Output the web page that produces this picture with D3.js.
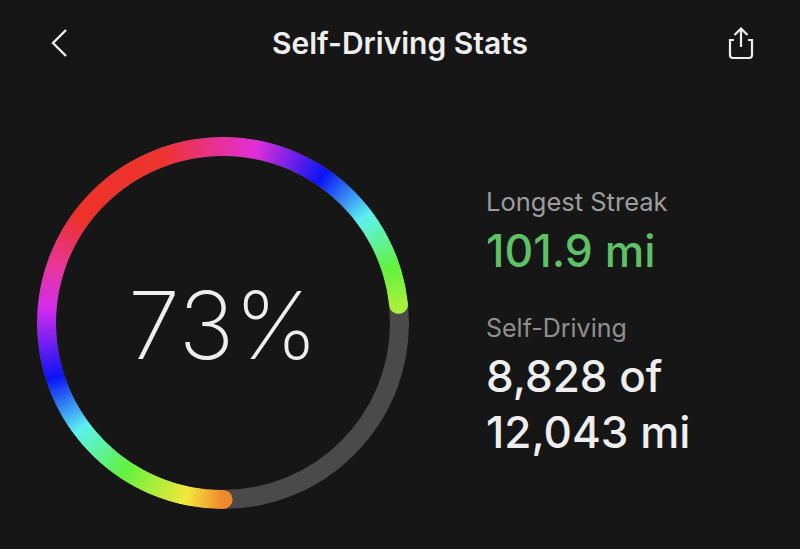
<!DOCTYPE html>
<html lang="en">
<head>
<meta charset="UTF-8">
<script src="https://d3js.org/d3.v7.min.js"></script>
<style>
    html, body { margin: 0; padding: 0; background: #161616; }
    svg { display: block; }
    text { font-family: Inter, "Noto Sans", sans-serif; }
</style>
</head>
<body>
<svg width="800" height="549"></svg>
<script>
// values
const selfDrivingMiles = 8828;
const totalMiles = 12043;
const percentLabel = "73%";
const titleLabel = "Self-Driving Stats";
const streakLabel = "Longest Streak";
const streakValue = "101.9 mi";
const selfLabel = "Self-Driving";
const selfValueLines = ["8,828 of", "12,043 mi"];

// colour band around the ring: share of the full circle, measured from the bottom, clockwise
const bandStops = [0, 0.032, 0.092, 0.147, 0.199, 0.262, 0.30, 0.35, 0.444, 0.528, 0.594, 0.647, 0.699, 0.733];
const bandColors = ["#ef8a2c", "#f3e83c", "#62f23e", "#5df2f0", "#0a14f5", "#d42bec", "#e6369c", "#ee3229",
                    "#ee3430", "#e22fd8", "#0a14f5", "#5df2f0", "#62f23e", "#a8f03c"];

const svg = d3.select("svg");
const cx = 223, cy = 323, outer = 186, inner = 167;
const ring = svg.append("g").attr("transform", `translate(${cx},${cy})`);

const angle = d3.scaleLinear().domain([0, 1]).range([Math.PI, 3 * Math.PI]);
const color = d3.scaleLinear().domain(bandStops).range(bandColors).interpolate(d3.interpolateRgb).clamp(true);

const arc = d3.arc().innerRadius(inner).outerRadius(outer);

// grey track
ring.append("path")
    .attr("d", arc({ startAngle: 0, endAngle: 2 * Math.PI }))
    .attr("fill", "#4a4a4a");

// rounded caps poke out past the ends of the value
const share = selfDrivingMiles / totalMiles;
const capPad = (outer - inner) / 2 / ((outer + inner) / 2) / (2 * Math.PI);

svg.append("clipPath").attr("id", "band")
    .append("path")
    .attr("transform", `translate(${cx},${cy})`)
    .attr("d", d3.arc().innerRadius(inner).outerRadius(outer).cornerRadius((outer - inner) / 2)({
        startAngle: angle(-capPad),
        endAngle: angle(share + capPad)
    }));

// small wedges make the conic gradient
const wedges = d3.range(-capPad - 0.002, share + capPad + 0.002, 0.002);
svg.append("g").attr("clip-path", "url(#band)")
    .append("g").attr("transform", `translate(${cx},${cy})`)
    .selectAll("path")
    .data(wedges)
    .join("path")
    .attr("d", d => arc({ startAngle: angle(d), endAngle: angle(d + 0.0028) }))
    .attr("fill", d => color(d));

svg.append("text")
    .attr("x", 223).attr("y", 359)
    .attr("text-anchor", "middle")
    .attr("font-size", 94).attr("font-weight", 250)
    .attr("fill", "#eeeeee")
    .text(percentLabel);

svg.append("text")
    .attr("x", 400).attr("y", 54)
    .attr("text-anchor", "middle")
    .attr("font-size", 30).attr("font-weight", 600)
    .attr("fill", "#eeeeee")
    .text(titleLabel);

// right hand stats
const stats = [
    { text: streakLabel, y: 211, size: 25.5, weight: 400, fill: "#9d9d9d" },
    { text: streakValue, y: 267, size: 44.5, weight: 500, fill: "#5fc065" },
    { text: selfLabel, y: 337, size: 25, weight: 400, fill: "#8f8f8f" },
    { text: selfValueLines[0], y: 392, size: 44, weight: 500, fill: "#eeeeee" },
    { text: selfValueLines[1], y: 448, size: 44, weight: 500, fill: "#eeeeee" }
];
svg.selectAll(".stat")
    .data(stats)
    .join("text")
    .attr("class", "stat")
    .attr("x", 486)
    .attr("y", d => d.y)
    .attr("font-size", d => d.size)
    .attr("font-weight", d => d.weight)
    .attr("fill", d => d.fill)
    .text(d => d.text);

// back chevron
svg.append("path")
    .attr("d", "M66,30L53,43L66,56")
    .attr("fill", "none").attr("stroke", "#eeeeee").attr("stroke-width", 2.4);

// share icon
svg.append("path")
    .attr("d", "M734,40H730V55Q730,58 733,58H749Q752,58 752,55V40H748M741,47V29M734.5,35L741,28.5L747.5,35")
    .attr("fill", "none").attr("stroke", "#eeeeee").attr("stroke-width", 2.2);
</script>
</body>
</html>
